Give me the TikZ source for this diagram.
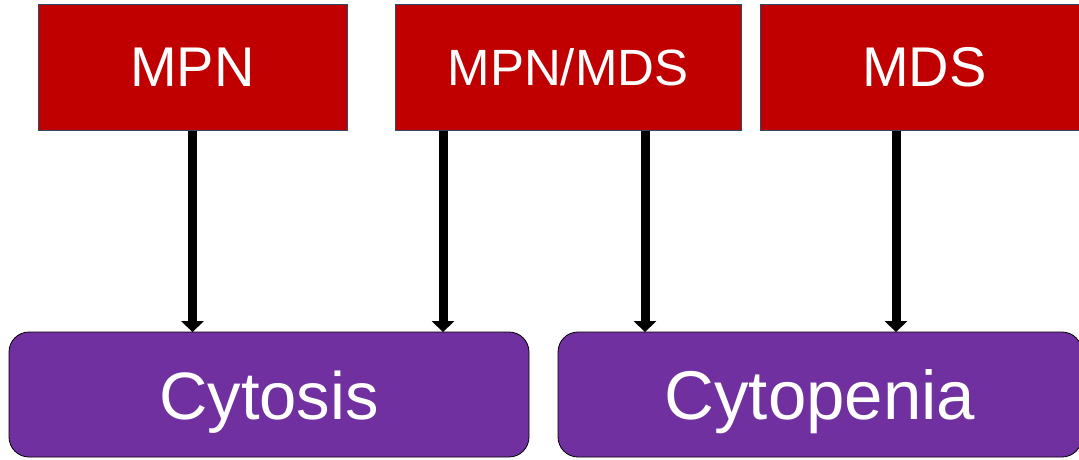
\documentclass[tikz,border=0pt]{standalone}
\usepackage{fontspec}
\setmainfont{Liberation Sans}
\usetikzlibrary{arrows.meta}
\definecolor{boxred}{HTML}{C00000}
\definecolor{boxpurple}{HTML}{7030A0}
\definecolor{redborder}{HTML}{2E4A66}
\tikzset{
  redbox/.style={draw=redborder, line width=1pt, fill=boxred, text=white, inner sep=0pt,
    minimum height=126pt, font=\fontsize{56}{60}\selectfont},
  purplebox/.style={draw=black, line width=0.8pt, fill=boxpurple, text=white, inner sep=0pt,
    rounded corners=20pt, minimum height=125pt, text depth=0pt, text height=50pt,
    font=\fontsize{67}{72}\selectfont},
  arr/.style={line width=9pt, -{Triangle[width=22pt,length=11pt]}, shorten >=-0.5pt}
}
\begin{document}
\begin{tikzpicture}[x=1pt,y=-1pt]
\useasboundingbox (0,0) rectangle (1079,459);
\clip (0,0) rectangle (1079,459);
\node[redbox, minimum width=309pt] (mpn) at (192.5,67) {MPN};
\node[redbox, minimum width=346pt, font=\fontsize{51}{56}\selectfont] (mpnmds) at (568,67) {MPN/MDS};
\node[redbox, minimum width=329pt] (mds) at (924.5,67) {MDS};
\node[purplebox, minimum width=520pt] (cytosis) at (269,394.5) {Cytosis};
\node[purplebox, minimum width=524pt, font=\fontsize{69}{74}\selectfont] (cytopenia) at (820,394.5) {Cytopenia};
\coordinate (s2) at (443,130);
\coordinate (s3) at (645,130);
\coordinate (s4) at (896,130);
\draw[arr] (mpn.south) -- (mpn.south |- cytosis.north);
\draw[arr] (mpnmds.south -| s2) -- (s2 |- cytosis.north);
\draw[arr] (mpnmds.south -| s3) -- (s3 |- cytopenia.north);
\draw[arr] (mds.south -| s4) -- (s4 |- cytopenia.north);
\end{tikzpicture}
\end{document}
